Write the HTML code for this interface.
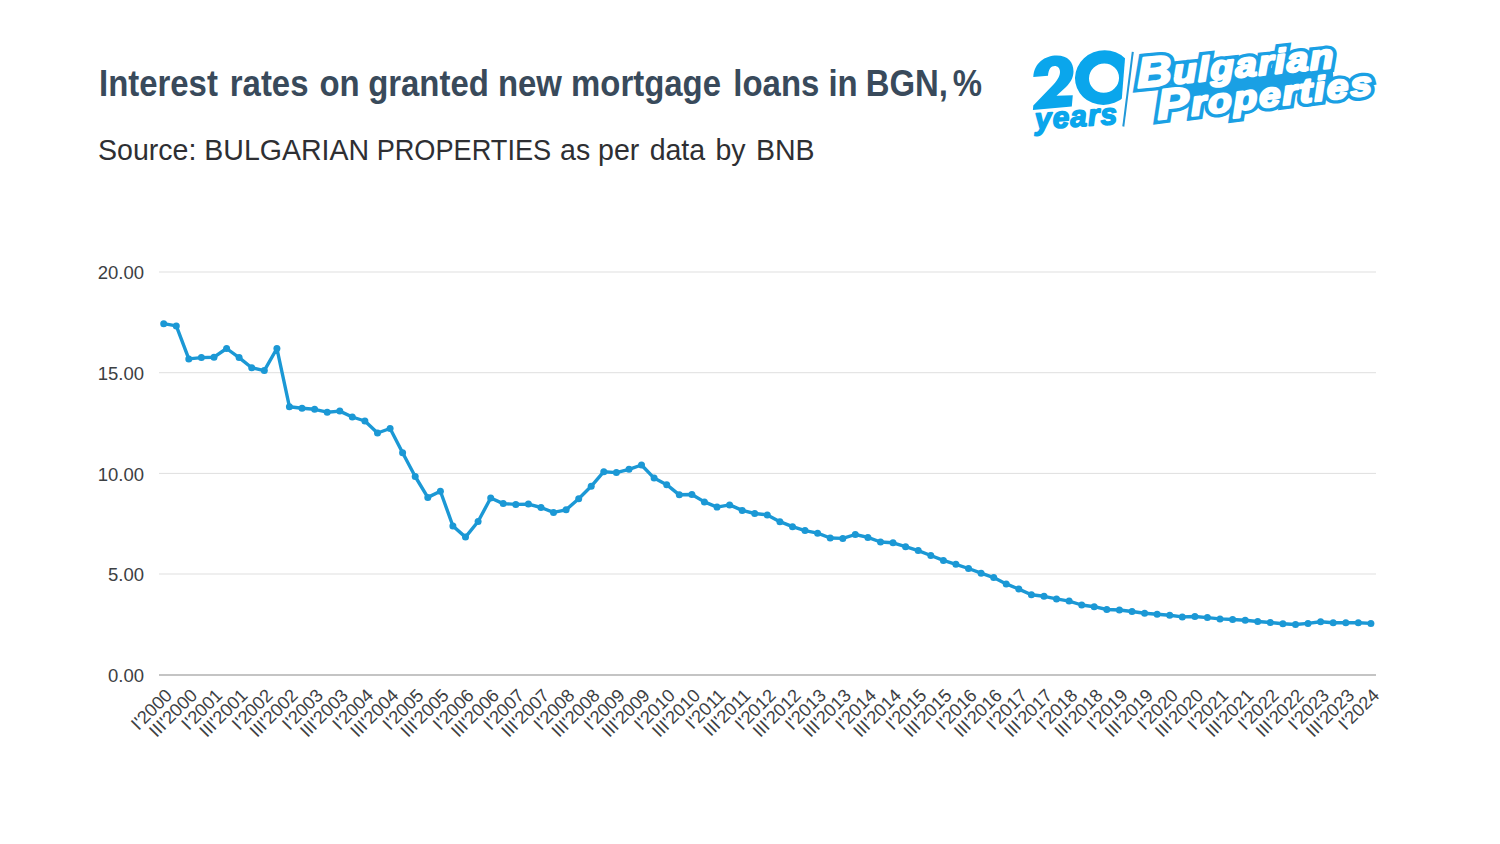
<!DOCTYPE html>
<html><head><meta charset="utf-8"><style>
html,body{margin:0;padding:0;background:#fff;}
body{width:1500px;height:844px;overflow:hidden;position:relative;font-family:"Liberation Sans",sans-serif;}
.t{position:absolute;left:99px;top:66px;font-size:36px;line-height:1;font-weight:bold;color:#394a5b;white-space:nowrap;transform:scaleX(0.914);transform-origin:0 0}
.s{position:absolute;left:98px;top:134.6px;font-size:30px;line-height:1;color:#2e2f33;white-space:nowrap;transform:scaleX(0.951);transform-origin:0 0}
svg{position:absolute;left:0;top:0}
</style></head><body>
<div class="t">Interest <span style="margin-left:3.06px">rates</span> <span style="margin-left:2.08px">on</span> <span style="margin-left:-0.77px">granted</span> new mortgage <span style="margin-left:3.50px">loans</span> in <span style="margin-left:-1.31px">BGN,</span> <span style="margin-left:-4.60px">%</span></div>
<div class="s">Source: BULGARIAN <span style="display:inline-block;transform:scaleX(0.952);transform-origin:0 0;margin-right:-8.8px">PROPERTIES</span> as per <span style="margin-left:2.52px">data</span> <span style="margin-left:2.52px">by</span> <span style="margin-left:2.52px">BNB</span></div>
<svg width="1500" height="844" viewBox="0 0 1500 844">
<g><line x1="159" y1="272.0" x2="1376" y2="272.0" stroke="#dfdfdf" stroke-width="1"/><line x1="159" y1="372.7" x2="1376" y2="372.7" stroke="#dfdfdf" stroke-width="1"/><line x1="159" y1="473.4" x2="1376" y2="473.4" stroke="#dfdfdf" stroke-width="1"/><line x1="159" y1="574.0" x2="1376" y2="574.0" stroke="#dfdfdf" stroke-width="1"/><line x1="159" y1="674.9" x2="1376" y2="674.9" stroke="#c4c4c4" stroke-width="2"/></g>
<g font-family="Liberation Sans" font-size="18.5" fill="#3c4043"><text x="144" y="279.2" text-anchor="end">20.00</text><text x="144" y="379.9" text-anchor="end">15.00</text><text x="144" y="480.59999999999997" text-anchor="end">10.00</text><text x="144" y="581.2" text-anchor="end">5.00</text><text x="144" y="682.1" text-anchor="end">0.00</text></g>
<g font-family="Liberation Sans" font-size="18.2" fill="#3c4043"><text transform="translate(173.2,696.5) rotate(-45)" text-anchor="end">I'2000</text><text transform="translate(198.3,696.5) rotate(-45)" text-anchor="end">III'2000</text><text transform="translate(223.5,696.5) rotate(-45)" text-anchor="end">I'2001</text><text transform="translate(248.6,696.5) rotate(-45)" text-anchor="end">III'2001</text><text transform="translate(273.8,696.5) rotate(-45)" text-anchor="end">I'2002</text><text transform="translate(298.9,696.5) rotate(-45)" text-anchor="end">III'2002</text><text transform="translate(324.1,696.5) rotate(-45)" text-anchor="end">I'2003</text><text transform="translate(349.2,696.5) rotate(-45)" text-anchor="end">III'2003</text><text transform="translate(374.4,696.5) rotate(-45)" text-anchor="end">I'2004</text><text transform="translate(399.6,696.5) rotate(-45)" text-anchor="end">III'2004</text><text transform="translate(424.7,696.5) rotate(-45)" text-anchor="end">I'2005</text><text transform="translate(449.9,696.5) rotate(-45)" text-anchor="end">III'2005</text><text transform="translate(475.0,696.5) rotate(-45)" text-anchor="end">I'2006</text><text transform="translate(500.2,696.5) rotate(-45)" text-anchor="end">III'2006</text><text transform="translate(525.3,696.5) rotate(-45)" text-anchor="end">I'2007</text><text transform="translate(550.5,696.5) rotate(-45)" text-anchor="end">III'2007</text><text transform="translate(575.6,696.5) rotate(-45)" text-anchor="end">I'2008</text><text transform="translate(600.8,696.5) rotate(-45)" text-anchor="end">III'2008</text><text transform="translate(625.9,696.5) rotate(-45)" text-anchor="end">I'2009</text><text transform="translate(651.0,696.5) rotate(-45)" text-anchor="end">III'2009</text><text transform="translate(676.2,696.5) rotate(-45)" text-anchor="end">I'2010</text><text transform="translate(701.4,696.5) rotate(-45)" text-anchor="end">III'2010</text><text transform="translate(726.5,696.5) rotate(-45)" text-anchor="end">I'2011</text><text transform="translate(751.7,696.5) rotate(-45)" text-anchor="end">III'2011</text><text transform="translate(776.8,696.5) rotate(-45)" text-anchor="end">I'2012</text><text transform="translate(802.0,696.5) rotate(-45)" text-anchor="end">III'2012</text><text transform="translate(827.1,696.5) rotate(-45)" text-anchor="end">I'2013</text><text transform="translate(852.2,696.5) rotate(-45)" text-anchor="end">III'2013</text><text transform="translate(877.4,696.5) rotate(-45)" text-anchor="end">I'2014</text><text transform="translate(902.5,696.5) rotate(-45)" text-anchor="end">III'2014</text><text transform="translate(927.7,696.5) rotate(-45)" text-anchor="end">I'2015</text><text transform="translate(952.9,696.5) rotate(-45)" text-anchor="end">III'2015</text><text transform="translate(978.0,696.5) rotate(-45)" text-anchor="end">I'2016</text><text transform="translate(1003.2,696.5) rotate(-45)" text-anchor="end">III'2016</text><text transform="translate(1028.3,696.5) rotate(-45)" text-anchor="end">I'2017</text><text transform="translate(1053.5,696.5) rotate(-45)" text-anchor="end">III'2017</text><text transform="translate(1078.6,696.5) rotate(-45)" text-anchor="end">I'2018</text><text transform="translate(1103.8,696.5) rotate(-45)" text-anchor="end">III'2018</text><text transform="translate(1128.9,696.5) rotate(-45)" text-anchor="end">I'2019</text><text transform="translate(1154.1,696.5) rotate(-45)" text-anchor="end">III'2019</text><text transform="translate(1179.2,696.5) rotate(-45)" text-anchor="end">I'2020</text><text transform="translate(1204.4,696.5) rotate(-45)" text-anchor="end">III'2020</text><text transform="translate(1229.5,696.5) rotate(-45)" text-anchor="end">I'2021</text><text transform="translate(1254.7,696.5) rotate(-45)" text-anchor="end">III'2021</text><text transform="translate(1279.8,696.5) rotate(-45)" text-anchor="end">I'2022</text><text transform="translate(1305.0,696.5) rotate(-45)" text-anchor="end">III'2022</text><text transform="translate(1330.1,696.5) rotate(-45)" text-anchor="end">I'2023</text><text transform="translate(1355.3,696.5) rotate(-45)" text-anchor="end">III'2023</text><text transform="translate(1380.4,696.5) rotate(-45)" text-anchor="end">I'2024</text></g>
<polyline points="163.7,323.7 176.3,325.9 188.8,358.9 201.4,357.6 214.0,357.2 226.6,348.5 239.1,357.6 251.7,367.8 264.3,370.6 276.9,348.5 289.4,406.7 302.0,408.3 314.6,409.3 327.2,412.2 339.8,411.1 352.3,417.0 364.9,421.0 377.5,433.0 390.1,428.5 402.6,452.7 415.2,476.5 427.8,497.4 440.4,491.2 452.9,526.0 465.5,537.1 478.1,521.5 490.7,498.0 503.2,503.6 515.8,504.4 528.4,504.1 541.0,507.5 553.5,512.4 566.1,509.8 578.7,498.7 591.2,486.3 603.8,471.7 616.4,472.6 629.0,469.3 641.5,465.0 654.1,478.1 666.7,484.7 679.3,494.8 691.9,494.5 704.4,501.9 717.0,507.1 729.6,504.9 742.2,510.4 754.7,513.5 767.3,514.9 779.9,521.7 792.5,526.7 805.0,530.6 817.6,533.2 830.2,538.0 842.8,538.4 855.3,534.5 867.9,537.4 880.5,542.0 893.0,542.8 905.6,546.7 918.2,550.6 930.8,555.5 943.4,560.4 955.9,564.3 968.5,568.5 981.1,573.2 993.7,577.6 1006.2,583.9 1018.8,589.1 1031.4,594.7 1044.0,596.3 1056.5,598.9 1069.1,601.1 1081.7,605.0 1094.2,606.7 1106.8,609.5 1119.4,610.0 1132.0,611.5 1144.6,613.3 1157.1,614.3 1169.7,615.2 1182.3,616.9 1194.9,616.5 1207.4,617.6 1220.0,618.9 1232.6,619.5 1245.2,620.2 1257.7,621.5 1270.3,622.5 1282.9,623.7 1295.5,624.5 1308.0,623.4 1320.6,621.7 1333.2,622.8 1345.8,622.8 1358.3,622.8 1370.9,623.4" fill="none" stroke="#1b98d5" stroke-width="3.4" stroke-linejoin="round"/>
<g fill="#1b98d5"><circle cx="163.7" cy="323.7" r="3.5"/><circle cx="176.3" cy="325.9" r="3.5"/><circle cx="188.8" cy="358.9" r="3.5"/><circle cx="201.4" cy="357.6" r="3.5"/><circle cx="214.0" cy="357.2" r="3.5"/><circle cx="226.6" cy="348.5" r="3.5"/><circle cx="239.1" cy="357.6" r="3.5"/><circle cx="251.7" cy="367.8" r="3.5"/><circle cx="264.3" cy="370.6" r="3.5"/><circle cx="276.9" cy="348.5" r="3.5"/><circle cx="289.4" cy="406.7" r="3.5"/><circle cx="302.0" cy="408.3" r="3.5"/><circle cx="314.6" cy="409.3" r="3.5"/><circle cx="327.2" cy="412.2" r="3.5"/><circle cx="339.8" cy="411.1" r="3.5"/><circle cx="352.3" cy="417.0" r="3.5"/><circle cx="364.9" cy="421.0" r="3.5"/><circle cx="377.5" cy="433.0" r="3.5"/><circle cx="390.1" cy="428.5" r="3.5"/><circle cx="402.6" cy="452.7" r="3.5"/><circle cx="415.2" cy="476.5" r="3.5"/><circle cx="427.8" cy="497.4" r="3.5"/><circle cx="440.4" cy="491.2" r="3.5"/><circle cx="452.9" cy="526.0" r="3.5"/><circle cx="465.5" cy="537.1" r="3.5"/><circle cx="478.1" cy="521.5" r="3.5"/><circle cx="490.7" cy="498.0" r="3.5"/><circle cx="503.2" cy="503.6" r="3.5"/><circle cx="515.8" cy="504.4" r="3.5"/><circle cx="528.4" cy="504.1" r="3.5"/><circle cx="541.0" cy="507.5" r="3.5"/><circle cx="553.5" cy="512.4" r="3.5"/><circle cx="566.1" cy="509.8" r="3.5"/><circle cx="578.7" cy="498.7" r="3.5"/><circle cx="591.2" cy="486.3" r="3.5"/><circle cx="603.8" cy="471.7" r="3.5"/><circle cx="616.4" cy="472.6" r="3.5"/><circle cx="629.0" cy="469.3" r="3.5"/><circle cx="641.5" cy="465.0" r="3.5"/><circle cx="654.1" cy="478.1" r="3.5"/><circle cx="666.7" cy="484.7" r="3.5"/><circle cx="679.3" cy="494.8" r="3.5"/><circle cx="691.9" cy="494.5" r="3.5"/><circle cx="704.4" cy="501.9" r="3.5"/><circle cx="717.0" cy="507.1" r="3.5"/><circle cx="729.6" cy="504.9" r="3.5"/><circle cx="742.2" cy="510.4" r="3.5"/><circle cx="754.7" cy="513.5" r="3.5"/><circle cx="767.3" cy="514.9" r="3.5"/><circle cx="779.9" cy="521.7" r="3.5"/><circle cx="792.5" cy="526.7" r="3.5"/><circle cx="805.0" cy="530.6" r="3.5"/><circle cx="817.6" cy="533.2" r="3.5"/><circle cx="830.2" cy="538.0" r="3.5"/><circle cx="842.8" cy="538.4" r="3.5"/><circle cx="855.3" cy="534.5" r="3.5"/><circle cx="867.9" cy="537.4" r="3.5"/><circle cx="880.5" cy="542.0" r="3.5"/><circle cx="893.0" cy="542.8" r="3.5"/><circle cx="905.6" cy="546.7" r="3.5"/><circle cx="918.2" cy="550.6" r="3.5"/><circle cx="930.8" cy="555.5" r="3.5"/><circle cx="943.4" cy="560.4" r="3.5"/><circle cx="955.9" cy="564.3" r="3.5"/><circle cx="968.5" cy="568.5" r="3.5"/><circle cx="981.1" cy="573.2" r="3.5"/><circle cx="993.7" cy="577.6" r="3.5"/><circle cx="1006.2" cy="583.9" r="3.5"/><circle cx="1018.8" cy="589.1" r="3.5"/><circle cx="1031.4" cy="594.7" r="3.5"/><circle cx="1044.0" cy="596.3" r="3.5"/><circle cx="1056.5" cy="598.9" r="3.5"/><circle cx="1069.1" cy="601.1" r="3.5"/><circle cx="1081.7" cy="605.0" r="3.5"/><circle cx="1094.2" cy="606.7" r="3.5"/><circle cx="1106.8" cy="609.5" r="3.5"/><circle cx="1119.4" cy="610.0" r="3.5"/><circle cx="1132.0" cy="611.5" r="3.5"/><circle cx="1144.6" cy="613.3" r="3.5"/><circle cx="1157.1" cy="614.3" r="3.5"/><circle cx="1169.7" cy="615.2" r="3.5"/><circle cx="1182.3" cy="616.9" r="3.5"/><circle cx="1194.9" cy="616.5" r="3.5"/><circle cx="1207.4" cy="617.6" r="3.5"/><circle cx="1220.0" cy="618.9" r="3.5"/><circle cx="1232.6" cy="619.5" r="3.5"/><circle cx="1245.2" cy="620.2" r="3.5"/><circle cx="1257.7" cy="621.5" r="3.5"/><circle cx="1270.3" cy="622.5" r="3.5"/><circle cx="1282.9" cy="623.7" r="3.5"/><circle cx="1295.5" cy="624.5" r="3.5"/><circle cx="1308.0" cy="623.4" r="3.5"/><circle cx="1320.6" cy="621.7" r="3.5"/><circle cx="1333.2" cy="622.8" r="3.5"/><circle cx="1345.8" cy="622.8" r="3.5"/><circle cx="1358.3" cy="622.8" r="3.5"/><circle cx="1370.9" cy="623.4" r="3.5"/></g>
<g id="logo">
<path fill="#0aa6ec" d="M1033.3 77 C1034 63 1045 55.5 1056.7 55.5 C1068 55.5 1073.5 62 1073.5 71.5 C1073.5 78 1070 83 1066 87 L1056.5 95.8 L1072.8 95.2 L1071.8 106.6 L1032.9 109.9 L1033.3 105.5 L1053.5 84.5 C1058 79.5 1060 75.5 1060 72 C1060 68 1057.5 66 1054.8 66 C1051 66 1048.5 69 1048 75.8 Z"/>
<clipPath id="c0"><polygon points="1060,40 1126.5,40 1120.5,115 1060,115"/></clipPath>
<path clip-path="url(#c0)" fill="#0aa6ec" fill-rule="evenodd" d="M1075 77.6 A29 27.2 -10 1 0 1133 77.6 A29 27.2 -10 1 0 1075 77.6 Z M1089 78.2 A15 14.5 -20 1 0 1119 78.2 A15 14.5 -20 1 0 1089 78.2 Z"/>
<line x1="1132.8" y1="51.8" x2="1123.3" y2="126.5" stroke="#2198d8" stroke-width="2"/>
<text transform="translate(1035.5,129.5) rotate(-4)" font-family="Liberation Sans" font-weight="bold" font-style="italic" font-size="30" letter-spacing="1" fill="#0aa6ec" stroke="#0aa6ec" stroke-width="1.6" stroke-linejoin="round">years</text>
<g transform="translate(1140,87.5) rotate(-6.7) skewX(-3) scale(1.14,1)" font-family="Liberation Sans" font-weight="bold" font-style="italic">
 <path d="M28 -4 L170 -4 L170 18 L28 18 Z" fill="#1aa0e4"/>
 <g fill="#1aa0e4" stroke="#1aa0e4" stroke-width="9" stroke-linejoin="miter">
  <text x="-2" y="0" transform="rotate(0.9)" font-size="34" letter-spacing="1.3"><tspan font-size="42">B</tspan>ulgarian</text>
  <text x="14" y="34" font-size="34" letter-spacing="1.75"><tspan font-size="42">P</tspan>roperties</text>
 </g>
 <g fill="#fff" stroke="#fff" stroke-width="2.4" stroke-linejoin="round">
  <text x="-2" y="0" transform="rotate(0.9)" font-size="34" letter-spacing="1.3"><tspan font-size="42">B</tspan>ulgarian</text>
  <text x="14" y="34" font-size="34" letter-spacing="1.75"><tspan font-size="42">P</tspan>roperties</text>
 </g>
</g>
</g>

</svg>
</body></html>
